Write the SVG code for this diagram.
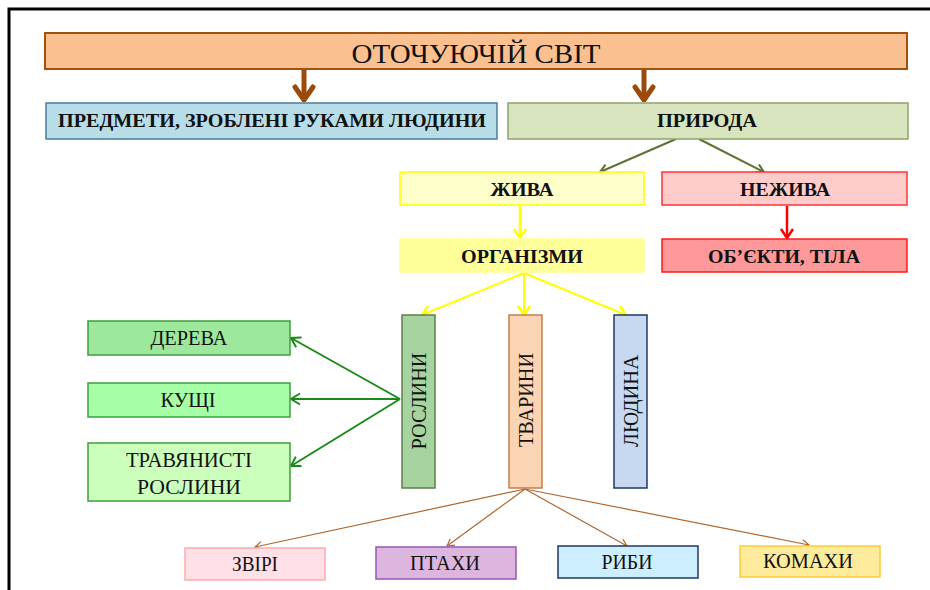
<svg xmlns="http://www.w3.org/2000/svg" width="930" height="590" viewBox="0 0 930 590">
<defs>
<style>
.t{font-family:"Liberation Serif","Times New Roman",serif;fill:#111;text-anchor:middle;dominant-baseline:central}
.b{font-weight:bold}
.box{stroke-width:1.5}
</style>
<marker id="mBrown" markerUnits="userSpaceOnUse" viewBox="-16 -12 18 24" refX="0" refY="0" markerWidth="18" markerHeight="24" orient="auto"><path d="M-13,-9 L0,0 L-13,9" fill="none" stroke="#9A4A0A" stroke-width="5" stroke-linejoin="round" stroke-linecap="round"/></marker>
<marker id="mOlive" markerUnits="userSpaceOnUse" viewBox="-10 -6 12 12" refX="0" refY="0" markerWidth="12" markerHeight="12" orient="auto"><path d="M-8,-4.5 L0,0 L-8,4.5" fill="none" stroke="#5E7332" stroke-width="2"/></marker>
<marker id="mYellow" markerUnits="userSpaceOnUse" viewBox="-12 -8 14 16" refX="0" refY="0" markerWidth="14" markerHeight="16" orient="auto"><path d="M-9,-6 L0,0 L-9,6" fill="none" stroke="#FFFF00" stroke-width="2.5"/></marker>
<marker id="mRed" markerUnits="userSpaceOnUse" viewBox="-12 -8 14 16" refX="0" refY="0" markerWidth="14" markerHeight="16" orient="auto"><path d="M-9,-6 L0,0 L-9,6" fill="none" stroke="#FF0000" stroke-width="2.5"/></marker>
<marker id="mGreen" markerUnits="userSpaceOnUse" viewBox="-12 -8 14 16" refX="0" refY="0" markerWidth="14" markerHeight="16" orient="auto"><path d="M-9,-5.5 L0,0 L-9,5.5" fill="none" stroke="#1A8A1A" stroke-width="2"/></marker>
<marker id="mTan" markerUnits="userSpaceOnUse" viewBox="-10 -6 12 12" refX="0" refY="0" markerWidth="12" markerHeight="12" orient="auto"><path d="M-7,-4 L0,0 L-7,4" fill="none" stroke="#B0672E" stroke-width="1.2"/></marker>
</defs>
<rect width="930" height="590" fill="#fff"/>
<path d="M9,590 V9 H930" fill="none" stroke="#000" stroke-width="3"/>

<g id="connectors">
<line x1="304" y1="70" x2="304" y2="100" stroke="#9A4A0A" stroke-width="5" marker-end="url(#mBrown)"/>
<line x1="644" y1="70" x2="644" y2="100" stroke="#9A4A0A" stroke-width="5" marker-end="url(#mBrown)"/>
<line x1="676" y1="139" x2="600" y2="172" stroke="#5E7332" stroke-width="2" marker-end="url(#mOlive)"/>
<line x1="699" y1="139" x2="764" y2="172" stroke="#5E7332" stroke-width="2" marker-end="url(#mOlive)"/>
<line x1="520" y1="206" x2="520" y2="238" stroke="#FFFF00" stroke-width="2.5" marker-end="url(#mYellow)"/>
<line x1="787" y1="206" x2="787" y2="238" stroke="#FF0000" stroke-width="2.5" marker-end="url(#mRed)"/>
<line x1="524" y1="273" x2="422" y2="315" stroke="#FFFF00" stroke-width="2" marker-end="url(#mYellow)"/>
<line x1="524" y1="273" x2="524" y2="315" stroke="#FFFF00" stroke-width="2" marker-end="url(#mYellow)"/>
<line x1="524" y1="273" x2="626" y2="315" stroke="#FFFF00" stroke-width="2" marker-end="url(#mYellow)"/>
<line x1="400" y1="399" x2="291" y2="338" stroke="#1A8A1A" stroke-width="2" marker-end="url(#mGreen)"/>
<line x1="400" y1="399" x2="291" y2="399" stroke="#1A8A1A" stroke-width="2" marker-end="url(#mGreen)"/>
<line x1="400" y1="399" x2="291" y2="466" stroke="#1A8A1A" stroke-width="2" marker-end="url(#mGreen)"/>
<line x1="525" y1="489" x2="255" y2="547" stroke="#B0672E" stroke-width="1.2" marker-end="url(#mTan)"/>
<line x1="525" y1="489" x2="447" y2="546" stroke="#B0672E" stroke-width="1.2" marker-end="url(#mTan)"/>
<line x1="525" y1="489" x2="627" y2="546" stroke="#B0672E" stroke-width="1.2" marker-end="url(#mTan)"/>
<line x1="525" y1="489" x2="809" y2="545" stroke="#B0672E" stroke-width="1.2" marker-end="url(#mTan)"/>
</g>

<g id="n-svit"><rect x="45" y="33" width="862" height="36" fill="#FAC090" stroke="#A0520F" stroke-width="2"/><text class="t" x="476" y="53" font-size="28" textLength="249" lengthAdjust="spacingAndGlyphs">ОТОЧУЮЧІЙ СВІТ</text></g>
<g id="n-predmety"><rect x="46" y="103" width="451" height="36" fill="#B7DDE8" stroke="#4A7E9A" class="box"/><text class="t b" x="272" y="121" font-size="18" textLength="428" lengthAdjust="spacingAndGlyphs">ПРЕДМЕТИ, ЗРОБЛЕНІ РУКАМИ ЛЮДИНИ</text></g>
<g id="n-pryroda"><rect x="508" y="103" width="400" height="36" fill="#D7E4BD" stroke="#8FA36A" class="box"/><text class="t b" x="707" y="121" font-size="18" textLength="100" lengthAdjust="spacingAndGlyphs">ПРИРОДА</text></g>
<g id="n-zhyva"><rect x="400" y="172" width="244" height="33" fill="#FFFFCC" stroke="#FFFF00" class="box"/><text class="t b" x="522" y="189" font-size="19" textLength="63" lengthAdjust="spacingAndGlyphs">ЖИВА</text></g>
<g id="n-nezhyva"><rect x="662" y="172" width="245" height="33" fill="#FFCCCC" stroke="#FF3333" class="box"/><text class="t b" x="785" y="189" font-size="19" textLength="90" lengthAdjust="spacingAndGlyphs">НЕЖИВА</text></g>
<g id="n-orhanizmy"><rect x="400" y="239" width="244" height="33" fill="#FFFF99" stroke="#FFFF99" class="box"/><text class="t b" x="522" y="256" font-size="19" textLength="122" lengthAdjust="spacingAndGlyphs">ОРГАНІЗМИ</text></g>
<g id="n-obiekty"><rect x="662" y="239" width="245" height="33" fill="#FF9999" stroke="#FF1A1A" class="box"/><text class="t b" x="784" y="256" font-size="19" textLength="152" lengthAdjust="spacingAndGlyphs">ОБ’ЄКТИ, ТІЛА</text></g>

<g id="n-roslyny"><rect x="402" y="315" width="33" height="173" fill="#A6D3A0" stroke="#5E7F45" class="box"/><text class="t" transform="translate(419,401) rotate(-90)" font-size="20" textLength="97" lengthAdjust="spacingAndGlyphs">РОСЛИНИ</text></g>
<g id="n-tvaryny"><rect x="509" y="315" width="33" height="173" fill="#FBD4B4" stroke="#C0804F" class="box"/><text class="t" transform="translate(526,400) rotate(-90)" font-size="20" textLength="94" lengthAdjust="spacingAndGlyphs">ТВАРИНИ</text></g>
<g id="n-liudyna"><rect x="614" y="315" width="33" height="173" fill="#C6D9F1" stroke="#1F3864" class="box"/><text class="t" transform="translate(631,401) rotate(-90)" font-size="20" textLength="92" lengthAdjust="spacingAndGlyphs">ЛЮДИНА</text></g>

<g id="n-dereva"><rect x="88" y="321" width="202" height="34" fill="#9DE89D" stroke="#3CA03C" class="box"/><text class="t" x="189" y="338" font-size="20" textLength="77" lengthAdjust="spacingAndGlyphs">ДЕРЕВА</text></g>
<g id="n-kushchi"><rect x="88" y="383" width="202" height="34" fill="#A6FFA6" stroke="#3CA03C" class="box"/><text class="t" x="188" y="400" font-size="20" textLength="55" lengthAdjust="spacingAndGlyphs">КУЩІ</text></g>
<g id="n-travianysti"><rect x="88" y="443" width="202" height="58" fill="#CCFFBB" stroke="#3CA03C" class="box"/><text class="t" x="189" y="460" font-size="20" textLength="126" lengthAdjust="spacingAndGlyphs">ТРАВЯНИСТІ</text><text class="t" x="189" y="487" font-size="20" textLength="104" lengthAdjust="spacingAndGlyphs">РОСЛИНИ</text></g>

<g id="n-zviri"><rect x="185" y="548" width="140" height="32" fill="#FFE0E6" stroke="#FFAAAA" class="box"/><text class="t" x="255" y="564" font-size="21" textLength="46" lengthAdjust="spacingAndGlyphs">ЗВІРІ</text></g>
<g id="n-ptakhy"><rect x="376" y="547" width="140" height="32" fill="#DDB6E0" stroke="#9955BB" class="box"/><text class="t" x="445" y="563" font-size="21" textLength="70" lengthAdjust="spacingAndGlyphs">ПТАХИ</text></g>
<g id="n-ryby"><rect x="558" y="546" width="140" height="32" fill="#CCEEFF" stroke="#1F3864" class="box"/><text class="t" x="627" y="562" font-size="21" textLength="51" lengthAdjust="spacingAndGlyphs">РИБИ</text></g>
<g id="n-komakhy"><rect x="740" y="546" width="140" height="31" fill="#FFEB9C" stroke="#FFCC33" class="box"/><text class="t" x="808" y="561" font-size="21" textLength="90" lengthAdjust="spacingAndGlyphs">КОМАХИ</text></g>
</svg>
